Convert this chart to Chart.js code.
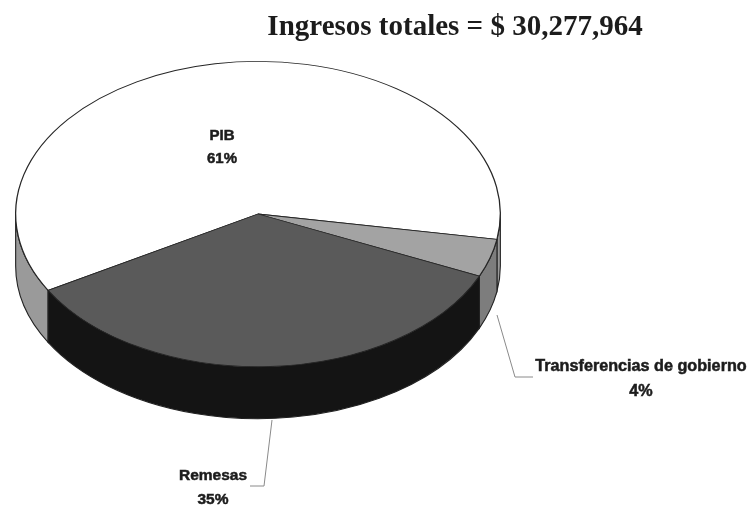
<!DOCTYPE html>
<html>
<head>
<meta charset="utf-8">
<script src="https://cdn.jsdelivr.net/npm/chart.js@4"></script>
<style>
html,body{margin:0;padding:0;background:#fff;}
#wrap{width:749px;height:505px;position:relative;overflow:hidden;}
canvas{filter:blur(0.5px);}
</style>
</head>
<body>
<div id="wrap"><canvas id="c" width="749" height="505"></canvas></div>
<script>
const chartTitle = "Ingresos totales = $ 30,277,964";
const categories = ["PIB", "Transferencias de gobierno", "Remesas"];
const shares = [61, 4, 35];
const topColors = ["#ffffff", "#a3a3a3", "#5a5a5a"];
const sideColors = ["#9a9a9a", "#7d7d7d", "#141414"];
const labelSpots = [[222, 136], [641, 367], [213, 476]];
const labelSizes = [15, 16.2, 15.5];
const leaderLines = [null, [[497, 315], [515, 377], [533, 377]], [[272, 420], [264, 486], [250, 486]]];

const centerX = 258, centerY = 214, tilt = 0.63, depth = 52;

function project(ctx, arc) {
  ctx.translate(centerX, centerY);
  ctx.scale(1, tilt);
  ctx.translate(-arc.x, -arc.y);
}

const pie3d = {
  id: "pie3d",
  beforeDatasetsDraw(chart) {
    const ctx = chart.ctx, arcs = chart.getDatasetMeta(0).data;
    const TAU = Math.PI * 2;
    arcs.forEach((a, i) => {
      const p = a.getProps(["startAngle", "endAngle", "outerRadius"], true);
      // only the part of a slice facing the viewer has a visible wall
      for (const base of [-TAU, 0, TAU]) {
        const from = Math.max(p.startAngle, base);
        const to = Math.min(p.endAngle, base + Math.PI);
        if (to <= from) continue;
        ctx.beginPath();
        ctx.ellipse(centerX, centerY, p.outerRadius, p.outerRadius * tilt, 0, from, to);
        ctx.ellipse(centerX, centerY + depth, p.outerRadius, p.outerRadius * tilt, 0, to, from, true);
        ctx.closePath();
        ctx.fillStyle = sideColors[i];
        ctx.fill();
        ctx.strokeStyle = "#222";
        ctx.lineWidth = 1.1;
        ctx.stroke();
      }
    });
    // flattened top face: the library draws its arcs inside this transform
    const p0 = arcs[0].getProps(["x", "y"], true);
    ctx.save();
    project(ctx, p0);
  },
  afterDatasetsDraw(chart) {
    const ctx = chart.ctx;
    ctx.restore();
    ctx.save();
    ctx.fillStyle = "#1c1c1c";
    ctx.strokeStyle = "#1c1c1c";
    ctx.textAlign = "center";
    ctx.textBaseline = "middle";
    ctx.font = 'bold 29px "Liberation Serif"';
    ctx.fillText(chartTitle, 455, 28);
    categories.forEach((name, i) => {
      const [x, y] = labelSpots[i];
      ctx.font = 'bold ' + labelSizes[i] + 'px "Liberation Sans"';
      ctx.lineWidth = 0.5;
      const second = shares[i] + "%";
      const dy = i === 0 ? 23 : (i === 1 ? 25 : 24);
      ctx.fillText(name, x, y);
      ctx.strokeText(name, x, y);
      ctx.fillText(second, x, y + dy);
      ctx.strokeText(second, x, y + dy);
      const line = leaderLines[i];
      if (line) {
        ctx.beginPath();
        line.forEach(([lx, ly], k) => k ? ctx.lineTo(lx, ly) : ctx.moveTo(lx, ly));
        ctx.strokeStyle = "#8a8a8a";
        ctx.lineWidth = 1;
        ctx.stroke();
        ctx.strokeStyle = "#1c1c1c";
      }
    });
    ctx.restore();
  }
};

new Chart(document.getElementById("c"), {
  type: "pie",
  data: {
    labels: categories,
    datasets: [{
      data: shares,
      backgroundColor: topColors,
      borderColor: "#262626",
      borderWidth: 1.3
    }]
  },
  options: {
    responsive: false,
    animation: false,
    rotation: 240,
    layout: { padding: { left: 15, right: 248, top: 0, bottom: 19 } },
    plugins: { legend: { display: false }, tooltip: { enabled: false } }
  },
  plugins: [pie3d]
});
</script>
</body>
</html>
